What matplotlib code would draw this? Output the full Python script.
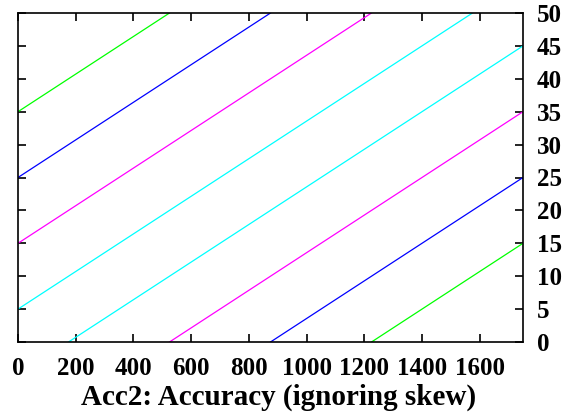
import matplotlib
matplotlib.use("Agg")
import matplotlib.pyplot as plt

# line endpoints
x_start = [0, 0, 0, 0, 175, 525, 875, 1225]
y_start = [35, 25, 15, 5, 0, 0, 0, 0]
x_end = [525, 875, 1225, 1575, 1750, 1750, 1750, 1750]
y_end = [50, 50, 50, 50, 45, 35, 25, 15]
colores = ["#00ff00", "#0000ff", "#ff00ff", "#00ffff",
           "#00ffff", "#ff00ff", "#0000ff", "#00ff00"]

xticks = [0, 200, 400, 600, 800, 1000, 1200, 1400, 1600]
yticks = [0, 5, 10, 15, 20, 25, 30, 35, 40, 45, 50]

plt.rcParams['font.family'] = ['Liberation Serif', 'DejaVu Serif']
plt.rcParams['font.weight'] = 'bold'

fig = plt.figure(figsize=(5.71, 4.17), dpi=100)
ax = fig.add_axes([18/571, 1 - 342/417, (523-18)/571, (342-13)/417])

for i in range(len(x_start)):
    ax.plot([x_start[i], x_end[i]], [y_start[i], y_end[i]],
            color=colores[i], lw=0.9)

ax.set_xlim(0, 1750)
ax.set_ylim(0, 50)
ax.set_xticks(xticks)
ax.set_yticks(yticks)
ax.tick_params(direction='in', length=6, width=1.2, top=True, right=True,
               labelleft=False, labelright=True, labelsize=18)
ax.tick_params(axis='x', pad=11)
ax.tick_params(axis='y', pad=10)
for lab in ax.get_xticklabels() + ax.get_yticklabels():
    lab.set_fontweight('bold')
for s in ax.spines.values():
    s.set_linewidth(1.2)

ax.set_xlabel("Acc2: Accuracy (ignoring skew)", fontsize=21,
              fontweight='bold', va='center')
ax.xaxis.set_label_coords(0.516, -0.167)

fig.savefig("out.png", dpi=100)
